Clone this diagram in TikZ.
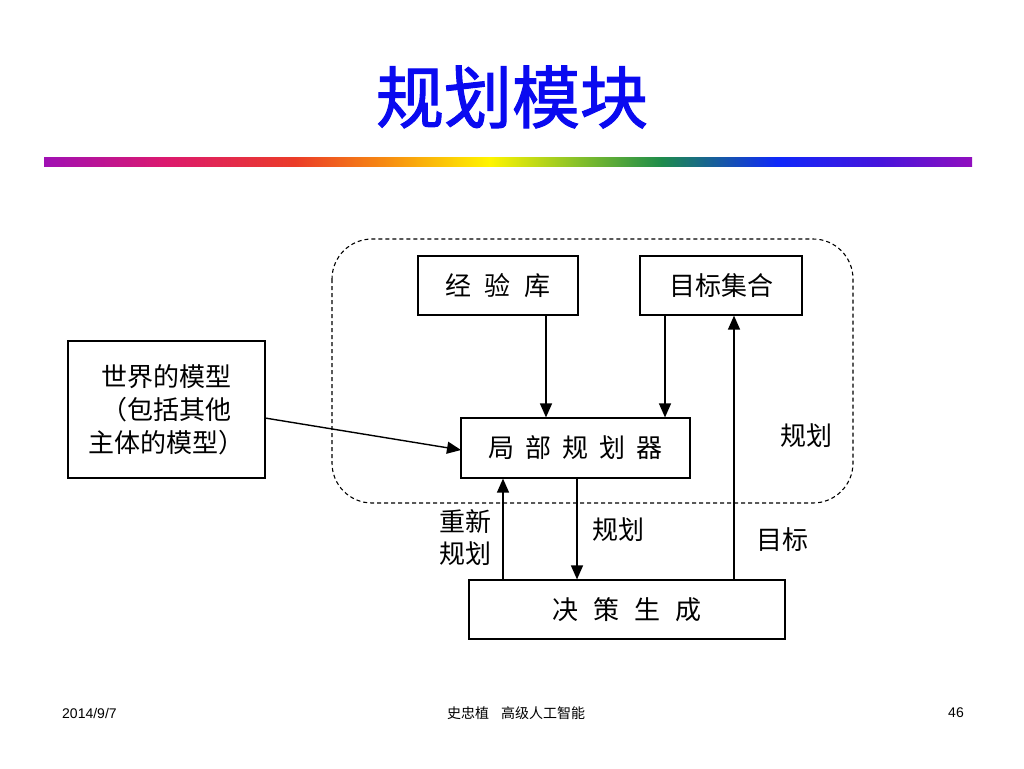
\documentclass[tikz,border=0pt]{standalone}
\usepackage{fontspec}
\setmainfont{Liberation Sans}
\newfontfamily\cjk{Noto Sans CJK SC}
\newfontfamily\cjktitle[FakeBold=1.6]{Noto Sans CJK SC}
\usetikzlibrary{arrows.meta}
\definecolor{titleblue}{RGB}{10,10,240}
\definecolor{rb0}{RGB}{160,16,180}
\definecolor{rb1}{RGB}{220,25,110}
\definecolor{rb2}{RGB}{235,60,40}
\definecolor{rb3}{RGB}{248,150,15}
\definecolor{rb4}{RGB}{255,245,0}
\definecolor{rb5}{RGB}{140,195,40}
\definecolor{rb6}{RGB}{30,140,75}
\definecolor{rb7}{RGB}{15,40,250}
\definecolor{rb8}{RGB}{70,20,220}
\definecolor{rb9}{RGB}{145,15,190}
\begin{document}
\begin{tikzpicture}[x=1pt,y=-1pt,
  box/.style={draw, line width=1.2pt, inner sep=0pt, font=\cjk\fontsize{26}{33}\selectfont, align=center},
  arr/.style={line width=1.4pt, -{Triangle[length=14pt,width=12pt]}},
  lbl/.style={font=\cjk\fontsize{26}{32}\selectfont, inner sep=0pt, align=center},
  foot/.style={font=\fontsize{14}{16}\selectfont, inner sep=0pt}]
\useasboundingbox (0,0) rectangle (1024,768);
% title
\node[font=\cjktitle\fontsize{68}{72}\selectfont, text=titleblue, inner sep=0pt] (title) at (512,97) {规划模块};
% rainbow bar
\shade[left color=rb0, right color=rb1] (44,157) rectangle (165.5,166);
\shade[left color=rb1, right color=rb2] (165,157) rectangle (295.5,166);
\shade[left color=rb2, right color=rb3] (295,157) rectangle (397.5,166);
\shade[left color=rb3, right color=rb4] (397,157) rectangle (489.5,166);
\shade[left color=rb4, right color=rb5] (489,157) rectangle (573.5,166);
\shade[left color=rb5, right color=rb6] (573,157) rectangle (661.5,166);
\shade[left color=rb6, right color=rb7] (661,157) rectangle (777.5,166);
\shade[left color=rb7, right color=rb8] (777,157) rectangle (879.5,166);
\shade[left color=rb8, right color=rb9] (879,157) rectangle (972,166);
% dashed region
\draw[dashed, line width=1.1pt, dash pattern=on 4pt off 3pt, rounded corners=40pt] (332,239) rectangle (853,503);
% boxes
\node[box, minimum width=160pt, minimum height=59pt] (ky) at (498,285.5) {经\hspace{14pt}验\hspace{14pt}库};
\node[box, minimum width=162pt, minimum height=59pt] (mb) at (721,285.5) {目标集合};
\node[box, minimum width=229pt, minimum height=60pt] (lp) at (575.5,448) {局\hspace{11pt}部\hspace{11pt}规\hspace{11pt}划\hspace{11pt}器};
\node[box, minimum width=197pt, minimum height=137pt] (world) at (166.5,409.5) {世界的模型\\（包括其他\\主体的模型）};
\node[box, minimum width=316pt, minimum height=59pt] (jc) at (627,609.5) {决\hspace{15pt}策\hspace{15pt}生\hspace{15pt}成};
% connectors
\draw[arr] (ky.south -| 546,0) -- (lp.north -| 546,0);
\draw[arr] (mb.south -| 665,0) -- (lp.north -| 665,0);
\draw[arr] (jc.north -| 734,0) -- (mb.south -| 734,0);
\draw[arr] (jc.north -| 503,0) -- (lp.south -| 503,0);
\draw[arr] (lp.south -| 577,0) -- (jc.north -| 577,0);
\coordinate (wout) at (265,418);
\coordinate (win) at (461,450);
\draw[arr] (wout) -- (win);
% labels
\node[lbl] (l1) at (806,436) {规划};
\node[lbl] (l2) at (465,538) {重新\\规划};
\node[lbl] (l3) at (618,530) {规划};
\node[lbl] (l4) at (782,540) {目标};
% footer
\node[foot, anchor=west] (date) at (62,713) {2014/9/7};
\node[foot, font=\cjk\fontsize{14}{16}\selectfont] (auth) at (516,713) {史忠植\hspace{12pt}高级人工智能};
\node[foot] (page) at (956,713) {46};
\end{tikzpicture}
\end{document}
